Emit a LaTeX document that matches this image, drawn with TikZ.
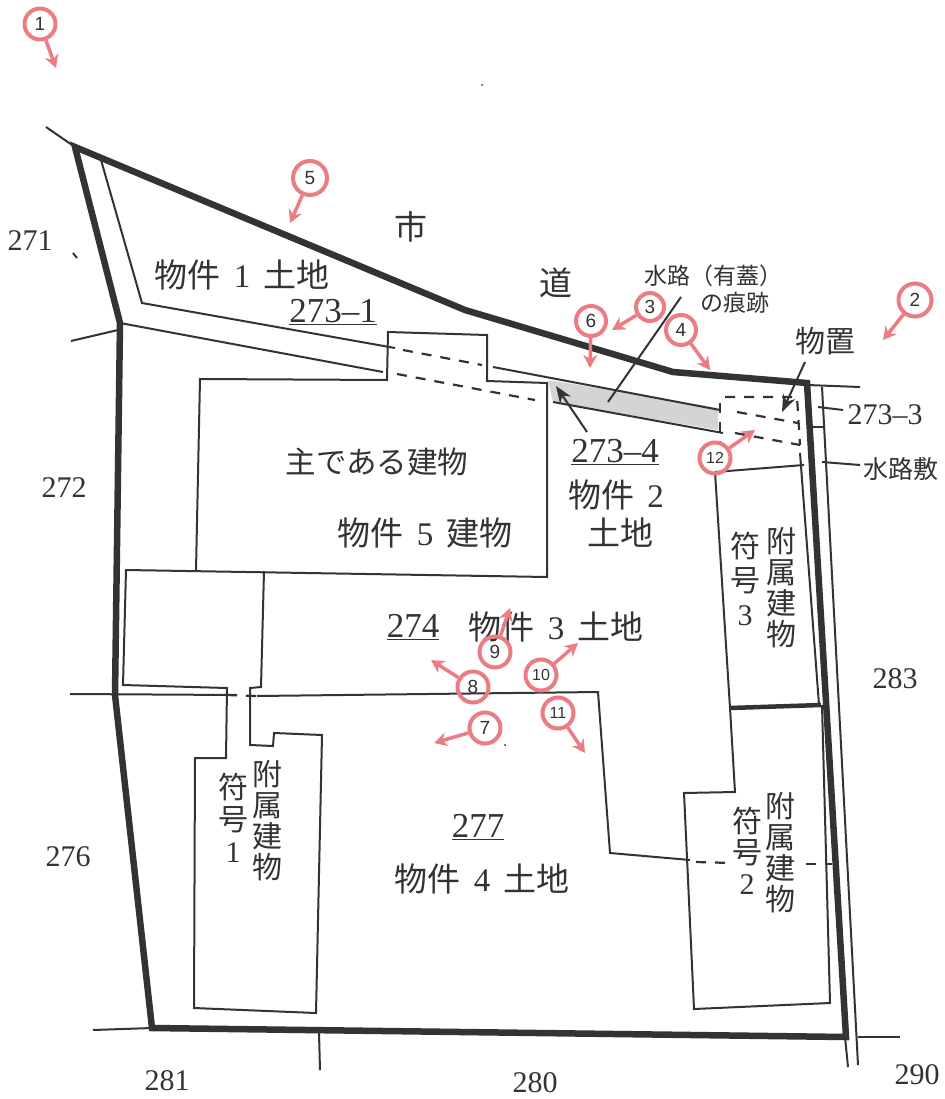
\documentclass[tikz,border=0pt]{standalone}
\usepackage{fontspec}
\setmainfont{Liberation Serif}
\newfontfamily\cjk{Noto Sans CJK JP}
\newfontfamily\hand{Liberation Sans}
\newfontfamily\numf{Liberation Serif}
\usetikzlibrary{arrows.meta}
\definecolor{ink}{HTML}{333333}
\definecolor{mark}{HTML}{EC7C84}
\definecolor{hatch}{HTML}{D4D4D4}
\newcommand{\gp}{\hspace{13pt}}
\tikzset{
  thin line/.style={draw=ink,line width=2pt,line join=miter},
  thick line/.style={draw=ink,line width=6.5pt,line join=miter},
  dash line/.style={draw=ink,line width=2.2pt,dash pattern=on 10pt off 9pt},
  lead/.style={draw=ink,line width=2pt},
  lead arrow/.style={draw=ink,line width=2pt,-{Stealth[length=17pt,width=13pt]}},
  num/.style={inner sep=0pt,text=ink,font=\fontsize{30}{30}\selectfont},
  unum/.style={inner sep=0pt,text=ink,font=\fontsize{35}{35}\selectfont},
  big/.style={inner sep=0pt,text=ink,font=\cjk\fontsize{33}{33}\selectfont},
  small/.style={inner sep=0pt,text=ink,font=\cjk\fontsize{23}{25}\selectfont},
  vert/.style={inner sep=0pt,text=ink,align=center,anchor=north,font=\cjk\fontsize{30}{31}\selectfont},
  marker/.style={circle,draw=mark,line width=4pt,inner sep=0pt,minimum size=31pt,text=ink,font=\hand\fontsize{19}{19}\selectfont},
  marker arrow/.style={draw=mark,line width=3.5pt,-{Stealth[length=13pt,width=14pt]}}
}
\begin{document}
\begin{tikzpicture}[x=1pt,y=-1pt]
\useasboundingbox (0,0) rectangle (944,1099);
\fill[white] (0,0) rectangle (944,1099);
% gray strip
\fill[hatch] (548,380) -- (718,408) -- (718,430) -- (553,402) -- cycle;
% thin lines
\draw[thin line] (46,127) -- (75,147);
\draw[thin line] (101,160) -- (142,303) -- (395,348);
\draw[thin line] (493,367) -- (720,410);
\draw[thin line] (120,323) -- (383,372);
\draw[thin line] (553,402) -- (723,433);
\draw[thin line] (71,341) -- (118,330);
\draw[thin line] (93,1030) -- (152,1028);
\draw[thin line] (319,1033) -- (320,1070);
\draw[thin line] (858,1037) -- (900,1037);
\draw[thin line] (807,385) -- (860,387);
\draw[thin line] (822,387) -- (858,1065);
\draw[thin line] (845,1037) -- (848,1067);
\draw[thin line] (813,427) -- (823,427);
\draw[lead] (818,407) -- (843,410);
\draw[lead] (822,462) -- (860,465);
\draw[lead] (73,253) -- (77,258);
% dashes
\draw[dash line] (403,350) -- (482,365);
\draw[dash line] (397,374) -- (535,400);
\draw[dash line] (737,412) -- (798,423);
\draw[dash line] (735,433) -- (800,445);
\draw[dash line] (725,397) -- (797,397) -- (800,445);
\draw[dash line] (720,403) -- (720,445);
\draw[dash line] (696,862) -- (732,863);
\draw[dash line] (806,864) -- (832,864);
\draw[dash line] (227,695) -- (256,696);
% buildings and boundaries
\draw[thin line] (196,570) -- (200,379) -- (387,380) -- (388,332) -- (487,335) -- (487,381) -- (547,383) -- (547,577) -- (126,570) -- (123,685) -- (227,688) -- (226,758) -- (195,758) -- (194,1008) -- (316,1013) -- (322,735) -- (274,733) -- (273,746) -- (250,745) -- (250,688) -- (261,687) -- (264,571);
\draw[thin line] (70,694) -- (237,695);
\draw[thin line] (257,696) -- (598,692) -- (610,853) -- (690,860);
\draw[thin line] (715,472) -- (804,465);
\draw[thin line] (800,453) -- (819,705);
\draw[thin line] (715,472) -- (730,708) -- (735,792) -- (684,793) -- (694,1009) -- (830,1003) -- (822,705);
\draw[draw=ink,line width=4.5pt] (730,708) -- (821,705);
% outer boundary
\draw[thick line] (75,147) -- (465,310) -- (673,372) -- (807,383) -- (846,1037) -- (152,1028) -- (115,695) -- (120,323) -- cycle;
% dots
\fill[ink] (482,85) circle (1pt);
\fill[ink] (505,745) circle (1pt);
% texts
\node[big] (ichi) at (411,227) {市};
\node[big] (michi) at (556,283) {道};
\node[num] (n271) at (30,241) {271};
\node[num] (n272) at (64,488) {272};
\node[num] (n276) at (68,857) {276};
\node[num] (n281) at (167,1081) {281};
\node[num] (n280) at (535,1083) {280};
\node[num] (n290) at (917,1075) {290};
\node[num] (n283) at (895,679) {283};
\node[num] (n2733) at (885,415) {273–3};
\node[big] (b1) at (242,275) {物件\gp{\numf 1}\gp 土地};
\node[unum] (l2731) at (333,312) {\underline{273–1}};
\node[unum] (l2734) at (615,452) {\underline{273–4}};
\node[big] (b2a) at (616,495) {物件\gp{\numf 2}};
\node[big] (b2b) at (620,533) {土地};
\node[big,font=\cjk\fontsize{30.5}{30.5}\selectfont] (main) at (377,462) {主である建物};
\node[big] (b5) at (425,533) {物件\gp{\numf 5}\gp 建物};
\node[unum] (l274) at (413,627) {\underline{274}};
\node[big] (b3) at (556,627) {物件\gp{\numf 3}\gp 土地};
\node[unum] (l277) at (478,827) {\underline{277}};
\node[big] (b4) at (482,879) {物件\gp{\numf 4}\gp 土地};
\node[small] (water1) at (713,276) {水路（有蓋）};
\node[small] (water2) at (735,303) {の痕跡};
\node[big,font=\cjk\fontsize{30}{30}\selectfont] (okiba) at (825,341) {物置};
\node[small,font=\cjk\fontsize{25}{25}\selectfont] (waterb) at (901,469) {水路敷};
\node[vert] (a3) at (781,527) {附\\属\\建\\物};
\node[vert] (s3) at (745,532) {符\\[3pt]号\\[3pt]{\numf 3}};
\node[vert] (a2) at (780,792) {附\\属\\建\\物};
\node[vert] (s2) at (747,807) {符\\号\\{\numf 2}};
\node[vert] (a1) at (267,760) {附\\属\\建\\物};
\node[vert] (s1) at (233,773) {符\\[1pt]号\\[1pt]{\numf 1}};
% leaders
\coordinate (wl1) at (681,297);
\coordinate (wl2) at (608,402);
\draw[lead] (wl1) -- (wl2);
\coordinate (sa) at (587,432);
\coordinate (sb) at (556,386);
\draw[lead arrow] (sa) -- (sb);
\coordinate (oa) at (805,362);
\coordinate (ob) at (782,412);
\draw[lead arrow] (oa) -- (ob);
% markers
\node[marker,minimum size=31pt] (m1) at (40,24) {1};
\node[marker,minimum size=33pt] (m2) at (915,300) {2};
\node[marker,minimum size=28pt] (m3) at (650,307) {3};
\node[marker,minimum size=30pt] (m4) at (681,330) {4};
\node[marker,minimum size=34pt] (m5) at (310,178) {5};
\node[marker,minimum size=30pt] (m6) at (591,321) {6};
\node[marker] (m7) at (485,728) {7};
\node[marker] (m8) at (473,687) {8};
\node[marker] (m9) at (495,652) {9};
\node[marker,font=\hand\fontsize{16}{16}\selectfont] (m10) at (541,675) {10};
\node[marker,font=\hand\fontsize{16}{16}\selectfont] (m11) at (558,713) {11};
\node[marker,font=\hand\fontsize{16}{16}\selectfont] (m12) at (715,458) {12};
\coordinate (e1) at (56,68);
\coordinate (e2) at (883,340);
\coordinate (e3) at (612,330);
\coordinate (e4) at (710,370);
\coordinate (e5) at (290,223);
\coordinate (e6) at (590,368);
\coordinate (e7) at (434,743);
\coordinate (e8) at (431,660);
\coordinate (e9) at (510,608);
\coordinate (e10) at (578,643);
\coordinate (e11) at (585,753);
\coordinate (e12) at (755,430);
\foreach \k in {1,...,12} {\draw[marker arrow] (m\k) -- (e\k);}
\end{tikzpicture}
\end{document}
